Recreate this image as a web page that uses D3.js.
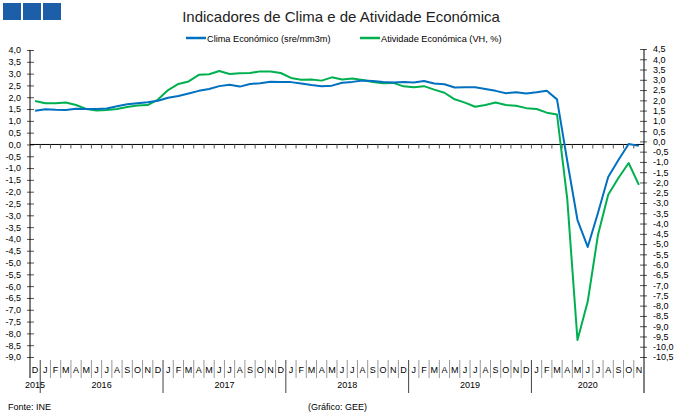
<!DOCTYPE html>
<html><head><meta charset="utf-8">
<script src="https://cdn.jsdelivr.net/npm/d3@7"></script>
<style>
body{margin:0;background:#fff}
svg{display:block}
text{font-family:"Liberation Sans",Arial,sans-serif;fill:#000}
</style>
</head><body>
<svg id="c" width="680" height="416"></svg>
<script>
const title = "Indicadores de Clima e de Atividade Económica";
const seriesNames = ["Clima Económico (sre/mm3m)", "Atividade Económica (VH, %)"];
const monthLabels = ["D",
  "J","F","M","A","M","J","J","A","S","O","N","D",
  "J","F","M","A","M","J","J","A","S","O","N","D",
  "J","F","M","A","M","J","J","A","S","O","N","D",
  "J","F","M","A","M","J","J","A","S","O","N","D",
  "J","F","M","A","M","J","J","A","S","O","N"];
const years = ["2015","2016","2017","2018","2019","2020"];
const yearStart = [0, 1, 13, 25, 37, 49];
const yearEnd   = [1, 13, 25, 37, 49, 60];
const clima = [1.43,
  1.49,1.47,1.46,1.51,1.50,1.50,1.52,1.62,1.70,1.75,1.79,1.85,
  1.98,2.05,2.16,2.27,2.35,2.47,2.53,2.45,2.56,2.59,2.66,2.64,
  2.64,2.58,2.52,2.47,2.49,2.61,2.65,2.71,2.69,2.64,2.62,2.64,
  2.62,2.69,2.58,2.55,2.41,2.42,2.42,2.35,2.27,2.17,2.21,2.16,
  2.21,2.27,1.91,-0.70,-3.20,-4.34,-2.90,-1.38,-0.66,0.02,-0.06];
const atividade = [1.97,
  1.86,1.86,1.89,1.77,1.58,1.50,1.53,1.58,1.68,1.75,1.77,2.04,
  2.50,2.80,2.92,3.24,3.27,3.43,3.28,3.32,3.33,3.41,3.40,3.33,
  3.09,3.00,3.02,2.96,3.12,3.01,3.06,2.99,2.89,2.83,2.85,2.68,
  2.64,2.69,2.52,2.37,2.05,1.89,1.69,1.77,1.89,1.77,1.74,1.62,
  1.58,1.40,1.31,-2.80,-9.67,-7.80,-4.56,-2.60,-1.78,-1.05,-2.12];
const leftTicks = d3.range(-18, 9).map(d => d / 2);
const rightTicks = d3.range(-21, 10).map(d => d / 2);
const colors = ["#0070C0", "#00B050"];

const loc = d3.formatLocale({decimal: ",", thousands: ".", grouping: [3], currency: ["", "€"], minus: "-"});
const fmt = loc.format(".1f");

const svg = d3.select("#c");
const x = d3.scaleBand().domain(d3.range(monthLabels.length)).range([30, 644]);
const yL = d3.scaleLinear().domain([-9, 4]).range([357, 50]);
const yR = d3.scaleLinear().domain([-10.5, 4.5]).range([357, 49]);
const cx = i => x(i) + x.bandwidth() / 2;

// logo squares
svg.append("g").selectAll("rect").data([0,1,2]).join("rect")
  .attr("x", d => 3 + d * 20).attr("y", 3).attr("width", 18).attr("height", 17)
  .attr("fill", "#1d5ea8");

// title
svg.append("text").attr("x", 341).attr("y", 22).attr("text-anchor", "middle")
  .style("font-size", "15px").style("fill", "#222").text(title);

// legend
const leg = svg.append("g");
[[186, 0], [360, 1]].forEach(([lx, k]) => {
  leg.append("line").attr("x1", lx).attr("x2", lx + 20).attr("y1", 38).attr("y2", 38)
    .attr("stroke", colors[k]).attr("stroke-width", 2.5);
  leg.append("text").attr("x", lx + 21).attr("y", 41.5).style("font-size", "9.2px").text(seriesNames[k]);
});

// left axis
const gL = svg.append("g").attr("transform", "translate(30,0)")
  .call(d3.axisLeft(yL).tickValues(leftTicks).tickFormat(fmt).tickSize(3).tickPadding(6));
gL.select(".domain").remove();
gL.selectAll(".tick line").attr("x1", -3).attr("x2", 4).attr("stroke", "#555");
gL.selectAll(".tick text").style("font-size", "9px").attr("fill", "#000");
svg.append("line").attr("x1", 30).attr("x2", 30).attr("y1", 50).attr("y2", 378).attr("stroke", "#000");

// right axis
const gR = svg.append("g").attr("transform", "translate(644,0)")
  .call(d3.axisRight(yR).tickValues(rightTicks).tickFormat(fmt).tickSize(3).tickPadding(6));
gR.select(".domain").remove();
gR.selectAll(".tick line").attr("x1", -4).attr("x2", 3).attr("stroke", "#555");
gR.selectAll(".tick text").style("font-size", "9px").attr("fill", "#000");
svg.append("line").attr("x1", 644).attr("x2", 644).attr("y1", 49).attr("y2", 393).attr("stroke", "#000");

// zero line with month ticks
const y0 = yL(0);
svg.append("line").attr("x1", 30).attr("x2", 644).attr("y1", y0).attr("y2", y0).attr("stroke", "#000");
svg.append("g").selectAll("line").data(d3.range(1, monthLabels.length)).join("line")
  .attr("x1", d => x(d)).attr("x2", d => x(d)).attr("y1", y0).attr("y2", y0 + 4)
  .attr("stroke", "#555");

// month row
const mg = svg.append("g");
mg.selectAll("line").data(d3.range(1, monthLabels.length).filter(d => !yearStart.includes(d))).join("line")
  .attr("x1", d => x(d)).attr("x2", d => x(d)).attr("y1", 360).attr("y2", 378)
  .attr("stroke", "#999");
mg.selectAll("text").data(monthLabels).join("text")
  .attr("x", (d, i) => cx(i)).attr("y", 372.5).attr("text-anchor", "middle")
  .style("font-size", "9px").text(d => d);

// year separators and labels
svg.append("g").selectAll("line").data(yearStart.slice(1)).join("line")
  .attr("x1", d => x(d)).attr("x2", d => x(d)).attr("y1", 360).attr("y2", 393)
  .attr("stroke", "#444");
svg.append("g").selectAll("text").data(years).join("text")
  .attr("x", (d, i) => (x(yearStart[i]) + x(yearEnd[i] - 1) + x.bandwidth()) / 2)
  .attr("y", 388).attr("text-anchor", "middle").style("font-size", "9px").text(d => d);

// lines
const lineL = d3.line().x((d, i) => cx(i)).y(d => yL(d));
const lineR = d3.line().x((d, i) => cx(i)).y(d => yR(d));
svg.append("path").datum(atividade).attr("d", lineR).attr("fill", "none")
  .attr("stroke", colors[1]).attr("stroke-width", 2).attr("stroke-linejoin", "round");
svg.append("path").datum(clima).attr("d", lineL).attr("fill", "none")
  .attr("stroke", colors[0]).attr("stroke-width", 2).attr("stroke-linejoin", "round");

// footer
svg.append("text").attr("x", 8).attr("y", 410).style("font-size", "9px").text("Fonte: INE");
svg.append("text").attr("x", 308).attr("y", 410).style("font-size", "9px").text("(Gráfico: GEE)");
</script>
</body></html>
